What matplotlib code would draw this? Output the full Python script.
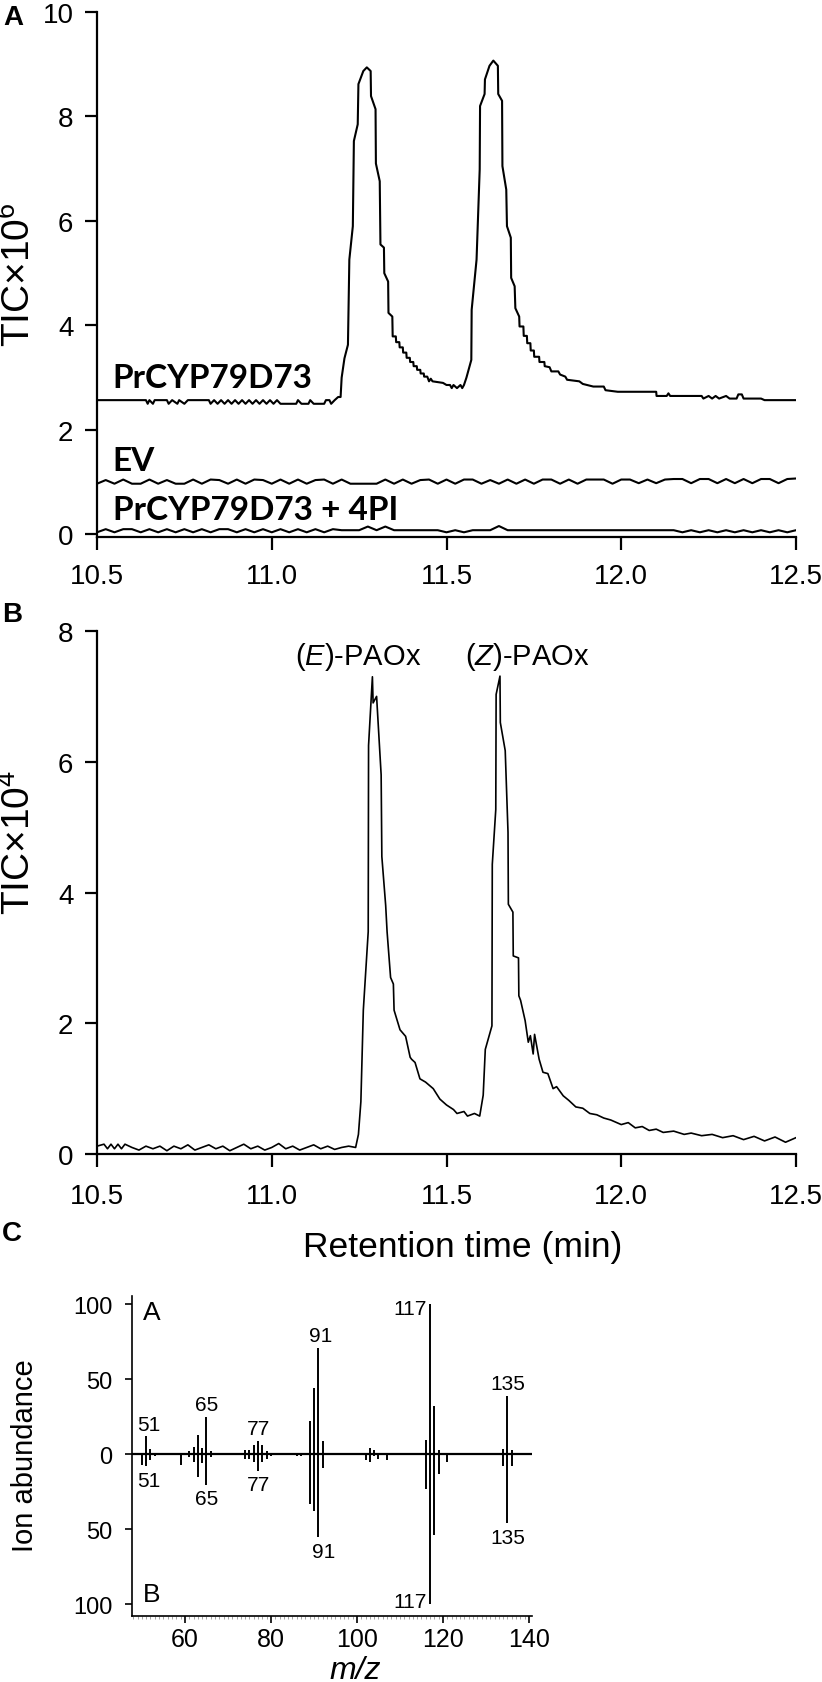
import numpy as np
import matplotlib
matplotlib.use('Agg')
import matplotlib.pyplot as plt

plt.rcParams['font.family'] = ['Liberation Sans', 'DejaVu Sans']
plt.rcParams['mathtext.fontset'] = 'custom'
plt.rcParams['mathtext.rm'] = 'Liberation Sans'
plt.rcParams['mathtext.it'] = 'Liberation Sans:italic'

W, H = 822, 1683

# ---- panel A: TIC (x1e6) vs retention time (min)
cyp_pts = [(10.50, 2.57), (10.64, 2.57), (10.645, 2.50), (10.65, 2.57), (10.66, 2.50), (10.665, 2.57),
           (10.70, 2.57), (10.705, 2.50), (10.715, 2.57), (10.73, 2.50), (10.735, 2.57), (10.75, 2.50),
           (10.76, 2.57), (10.82, 2.57), (10.825, 2.50), (10.835, 2.57), (10.845, 2.50), (10.855, 2.57),
           (10.865, 2.50), (10.875, 2.57), (10.885, 2.50), (10.895, 2.57), (10.905, 2.50), (10.915, 2.57),
           (10.925, 2.50), (10.935, 2.57), (10.945, 2.50), (10.955, 2.57), (10.965, 2.50), (10.975, 2.57),
           (10.985, 2.50), (10.995, 2.57), (11.005, 2.50), (11.015, 2.57), (11.025, 2.50), (11.07, 2.50),
           (11.075, 2.57), (11.085, 2.50), (11.105, 2.50), (11.11, 2.57), (11.12, 2.50), (11.15, 2.50),
           (11.155, 2.57), (11.165, 2.57), (11.17, 2.50), (11.18, 2.57), (11.19, 2.63), (11.197, 2.63),
           (11.20, 3.0), (11.208, 3.37), (11.218, 3.63), (11.222, 5.26), (11.232, 5.9), (11.235, 7.53),
           (11.246, 7.85), (11.248, 8.62), (11.262, 8.87), (11.272, 8.94), (11.283, 8.87), (11.284, 8.39),
           (11.297, 8.14), (11.298, 7.10), (11.309, 6.76), (11.311, 5.55), (11.321, 5.49), (11.322, 5.00),
           (11.333, 4.84), (11.334, 4.24), (11.345, 4.17), (11.346, 3.79), (11.355, 3.79), (11.356, 3.68),
           (11.365, 3.68), (11.366, 3.58), (11.375, 3.58), (11.376, 3.48), (11.385, 3.48), (11.386, 3.38),
           (11.395, 3.38), (11.396, 3.30), (11.405, 3.30), (11.406, 3.22), (11.415, 3.22), (11.416, 3.15),
           (11.425, 3.15), (11.426, 3.08), (11.435, 3.08), (11.436, 3.02), (11.445, 3.02), (11.450, 2.93),
           (11.455, 2.98), (11.46, 2.93), (11.49, 2.90), (11.50, 2.86), (11.51, 2.86), (11.515, 2.80),
           (11.52, 2.86), (11.53, 2.80), (11.54, 2.86), (11.545, 2.80), (11.55, 2.86), (11.557, 3.0),
           (11.571, 3.34), (11.572, 4.3), (11.586, 5.26), (11.595, 6.99), (11.596, 8.2), (11.609, 8.43),
           (11.61, 8.71), (11.623, 8.97), (11.634, 9.07), (11.647, 8.97), (11.648, 8.43), (11.659, 8.3),
           (11.66, 7.05), (11.671, 6.6), (11.673, 5.9), (11.684, 5.68), (11.685, 4.91), (11.695, 4.75),
           (11.697, 4.33), (11.708, 4.17), (11.709, 3.98), (11.72, 3.98), (11.721, 3.80), (11.73, 3.80),
           (11.731, 3.66), (11.74, 3.66), (11.741, 3.52), (11.75, 3.52), (11.751, 3.40), (11.765, 3.40),
           (11.766, 3.30), (11.78, 3.30), (11.781, 3.22), (11.795, 3.20), (11.80, 3.12), (11.82, 3.12),
           (11.825, 3.06), (11.84, 3.02), (11.845, 2.96), (11.88, 2.93), (11.89, 2.88), (11.92, 2.83),
           (11.95, 2.83), (11.955, 2.76), (11.99, 2.73), (12.10, 2.73), (12.101, 2.65), (12.13, 2.65),
           (12.135, 2.70), (12.14, 2.65), (12.23, 2.65), (12.235, 2.60), (12.25, 2.65), (12.26, 2.60),
           (12.27, 2.65), (12.28, 2.60), (12.30, 2.65), (12.31, 2.60), (12.33, 2.60), (12.335, 2.68),
           (12.345, 2.68), (12.35, 2.60), (12.40, 2.60), (12.41, 2.57), (12.50, 2.57)]

ctrl_t = np.linspace(10.5, 12.5, 81)
ev_v = [0.97, 1.04, 0.97, 1.05, 0.97, 0.97, 1.05, 0.97, 1.04, 0.97,
        0.97, 1.05, 0.97, 1.05, 1.04, 0.97, 1.05, 0.97, 1.05, 1.04,
        0.97, 1.05, 0.97, 1.05, 0.97, 1.04, 1.05, 0.97, 1.05, 0.97,
        0.97, 0.97, 0.97, 1.05, 0.97, 1.05, 0.97, 1.04, 1.05, 0.97,
        1.05, 0.97, 1.05, 1.05, 0.97, 1.04, 0.97, 1.05, 0.97, 1.05,
        0.97, 1.05, 1.05, 0.97, 1.05, 0.97, 1.05, 1.05, 1.05, 0.97,
        1.05, 1.05, 0.98, 1.05, 0.98, 1.05, 1.06, 1.06, 0.98, 1.06,
        1.06, 0.98, 1.06, 0.98, 1.06, 0.98, 1.06, 1.06, 0.98, 1.06,
        1.07]
pi_v = [0.04, 0.10, 0.04, 0.10, 0.10, 0.04, 0.10, 0.04, 0.10, 0.04,
        0.10, 0.04, 0.10, 0.04, 0.10, 0.10, 0.04, 0.10, 0.04, 0.10,
        0.04, 0.10, 0.04, 0.10, 0.04, 0.10, 0.04, 0.10, 0.08, 0.08,
        0.08, 0.15, 0.08, 0.15, 0.08, 0.08, 0.08, 0.08, 0.08, 0.08,
        0.04, 0.08, 0.04, 0.08, 0.08, 0.08, 0.16, 0.08, 0.08, 0.08,
        0.08, 0.08, 0.08, 0.08, 0.08, 0.08, 0.08, 0.08, 0.08, 0.08,
        0.08, 0.08, 0.08, 0.08, 0.08, 0.08, 0.08, 0.04, 0.08, 0.04,
        0.08, 0.04, 0.08, 0.04, 0.08, 0.04, 0.08, 0.04, 0.08, 0.04,
        0.08]

# ---- panel B: TIC (x1e4)
paox_pts = [(10.50, 0.12), (10.52, 0.15), (10.53, 0.08), (10.54, 0.15), (10.55, 0.08), (10.56, 0.15),
            (10.57, 0.08), (10.58, 0.15), (10.60, 0.10), (10.62, 0.06), (10.64, 0.12), (10.66, 0.08),
            (10.68, 0.12), (10.70, 0.05), (10.72, 0.12), (10.74, 0.08), (10.76, 0.14), (10.78, 0.06),
            (10.80, 0.10), (10.82, 0.14), (10.84, 0.08), (10.86, 0.12), (10.88, 0.05), (10.90, 0.10),
            (10.92, 0.15), (10.94, 0.08), (10.96, 0.12), (10.98, 0.06), (11.00, 0.10), (11.02, 0.16),
            (11.04, 0.08), (11.06, 0.12), (11.08, 0.06), (11.10, 0.10), (11.12, 0.14), (11.14, 0.08),
            (11.16, 0.12), (11.18, 0.07), (11.20, 0.10), (11.22, 0.12), (11.24, 0.10), (11.248, 0.3),
            (11.255, 0.8), (11.262, 2.2), (11.276, 3.4), (11.277, 6.25), (11.288, 7.3), (11.290, 6.9),
            (11.300, 7.0), (11.313, 5.8), (11.315, 4.55), (11.326, 3.8), (11.330, 3.4), (11.340, 2.7),
            (11.348, 2.6), (11.350, 2.2), (11.367, 1.9), (11.383, 1.8), (11.396, 1.48), (11.40, 1.45),
            (11.41, 1.4), (11.424, 1.15), (11.44, 1.1), (11.462, 1.0), (11.481, 0.84), (11.50, 0.75),
            (11.52, 0.68), (11.53, 0.62), (11.55, 0.65), (11.56, 0.58), (11.58, 0.62), (11.595, 0.58),
            (11.605, 0.9), (11.611, 1.6), (11.63, 1.96), (11.631, 4.43), (11.641, 5.27), (11.642, 7.03),
            (11.653, 7.31), (11.654, 6.6), (11.668, 6.17), (11.676, 4.92), (11.677, 3.82), (11.69, 3.7),
            (11.691, 3.03), (11.706, 3.0), (11.707, 2.42), (11.712, 2.35), (11.725, 2.04), (11.734, 1.71),
            (11.74, 1.81), (11.748, 1.53), (11.752, 1.83), (11.765, 1.45), (11.776, 1.25), (11.79, 1.23),
            (11.805, 1.0), (11.815, 1.03), (11.834, 0.89), (11.85, 0.82), (11.87, 0.72), (11.89, 0.7),
            (11.91, 0.62), (11.93, 0.6), (11.95, 0.55), (11.97, 0.52), (12.0, 0.45), (12.02, 0.48),
            (12.04, 0.4), (12.06, 0.42), (12.08, 0.36), (12.1, 0.38), (12.12, 0.33), (12.15, 0.35),
            (12.18, 0.3), (12.2, 0.32), (12.23, 0.28), (12.26, 0.3), (12.29, 0.25), (12.32, 0.28),
            (12.35, 0.22), (12.38, 0.27), (12.41, 0.2), (12.44, 0.26), (12.47, 0.18), (12.5, 0.25)]

# ---- panel C: mass spectra, A (up) and B (down)
mz = [50, 51, 52, 53, 57, 59, 61, 62, 63, 64, 65, 66, 74, 75, 76, 77, 78, 79, 80,
      85, 86, 87, 88, 89, 90, 91, 92, 93, 102, 103, 104, 105, 107,
      115, 116, 117, 118, 119, 121, 134, 135, 136]
ab_a = [0, 12, 3.5, 1, 1, 0, 2, 5, 13, 4, 25, 2, 2.5, 3, 6, 9, 6, 2, 1,
        1, 1, 1, 0.5, 22, 44, 71, 9, 1, 1, 4, 3, 0, 1,
        0.5, 9.5, 100, 32, 2.5, 0, 3.5, 39, 3]
ab_b = [7, 8, 4, 1, 0, 7, 2, 5, 15, 6, 20.5, 2, 3, 3, 5, 11, 5, 3, 1,
        0.5, 1, 1, 0.5, 33, 38, 55.5, 9, 0, 4, 5, 1, 3, 4,
        0.5, 23, 100, 54, 13, 5, 7.6, 46, 8]
lab_mz = [51, 65, 77, 91, 117, 135]


def box(x0, y0, x1, y1):
    return [x0 / W, 1 - y1 / H, (x1 - x0) / W, (y1 - y0) / H]


def style(ax, lw, tl, fs):
    for s in ['top', 'right']:
        ax.spines[s].set_visible(False)
    for s in ['left', 'bottom']:
        ax.spines[s].set_linewidth(lw)
    ax.tick_params(direction='out', length=tl, width=lw, labelsize=fs)


fig = plt.figure(figsize=(W / 100, H / 100), dpi=100)

# panel A
axA = fig.add_axes(box(97, 13, 796, 538))
t, v = np.array(cyp_pts).T
axA.plot(t, v, color='black', lw=1.5)
axA.plot(ctrl_t, ev_v, color='black', lw=1.5)
axA.plot(ctrl_t, pi_v, color='black', lw=1.5)
axA.set_xlim(10.5, 12.5)
axA.set_ylim(-0.05, 10)
axA.set_xticks([10.5, 11.0, 11.5, 12.0, 12.5])
axA.set_xticklabels(['10.5', '11.0', '11.5', '12.0', '12.5'])
axA.set_yticks([0, 2, 4, 6, 8, 10])
style(axA, 1.6, 9, 20)
axA.tick_params(axis='x', pad=10)
axA.tick_params(axis='y', pad=8)
for txt, yb in [('PrCYP79D73', 2.82), ('EV', 1.23), ('PrCYP79D73 + 4PI', 0.30)]:
    axA.text(10.545, yb, txt, family=['Lato', 'DejaVu Sans'], fontweight='bold',
             fontsize=24, va='baseline', ha='left')

# panel B
axB = fig.add_axes(box(97, 632, 796, 1155))
t, v = np.array(paox_pts).T
axB.plot(t, v, color='black', lw=1.2)
axB.set_xlim(10.5, 12.5)
axB.set_ylim(0, 8)
axB.set_xticks([10.5, 11.0, 11.5, 12.0, 12.5])
axB.set_xticklabels(['10.5', '11.0', '11.5', '12.0', '12.5'])
axB.set_yticks([0, 2, 4, 6, 8])
style(axB, 1.6, 9, 20)
axB.tick_params(axis='x', pad=12)
axB.tick_params(axis='y', pad=8)
axB.text(11.247, 7.62, r'($\mathit{E}$)-PAOx', fontsize=21, ha='center', va='center')
axB.text(11.73, 7.62, r'($\mathit{Z}$)-PAOx', fontsize=21, ha='center', va='center')

# panel C
axC = fig.add_axes(box(132, 1297, 532, 1617))
axC.vlines(mz, 0, ab_a, color='black', lw=1.4)
axC.vlines(mz, 0, [-b for b in ab_b], color='black', lw=1.4)
axC.axhline(0, color='black', lw=1.6)
axC.set_xlim(47.7, 140.7)
axC.set_ylim(-108, 105.5)
axC.set_xticks([60, 80, 100, 120, 140])
axC.set_xticks(np.arange(48, 141, 1), minor=True)
axC.set_yticks([100, 50, 0, -50, -100])
axC.set_yticklabels(['100', '50', '0', '50', '100'])
style(axC, 1.2, 5, 17)
axC.tick_params(axis='x', which='minor', length=2, width=0.5, color='0.5')
axC.tick_params(axis='x', pad=3, labelsize=18)
axC.tick_params(axis='y', pad=9)
for m in lab_mz:
    i = mz.index(m)
    if m == 117:
        axC.text(116.3, 97, '117', fontsize=15, ha='right', va='center')
        axC.text(116.3, -98, '117', fontsize=15, ha='right', va='center')
        continue
    dx = 0.6 if m in (51, 91) else 0
    axC.text(m + dx, ab_a[i] + 1.5, str(m), fontsize=15, ha='center', va='bottom')
    dxb = 1.2 if m == 91 else dx
    axC.text(m + dxb, -ab_b[i] - 3, str(m), fontsize=15, ha='center', va='top')
axC.text(50.3, 103, 'A', fontsize=19, ha='left', va='top')
axC.text(50.3, -101, 'B', fontsize=19, ha='left', va='bottom')

# axis titles and panel letters
fig.text(19 / W, 1 - 275 / H, r'TIC×10$^{6}$', rotation=90, fontsize=28, ha='center', va='center')
fig.text(19 / W, 1 - 842 / H, r'TIC×10$^{4}$', rotation=90, fontsize=28, ha='center', va='center')
fig.text(463 / W, 1 - 1248 / H, 'Retention time (min)', fontsize=25.5, ha='center', va='center')
fig.text(25 / W, 1 - 1456 / H, 'Ion abundance', rotation=90, fontsize=21, ha='center', va='center')
fig.text(355 / W, 1 - 1679 / H, 'm/z', fontstyle='italic', fontsize=23, ha='center', va='baseline')
fig.text(13 / W, 1 - 18 / H, 'A', fontweight='bold', fontsize=20, ha='center', va='center')
fig.text(12 / W, 1 - 615 / H, 'B', fontweight='bold', fontsize=20, ha='center', va='center')
fig.text(12 / W, 1 - 1234 / H, 'C', fontweight='bold', fontsize=20, ha='center', va='center')

fig.savefig('out.png', dpi=100)
